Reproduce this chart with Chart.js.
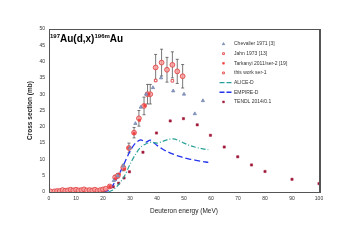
<!DOCTYPE html>
<html><head><meta charset="utf-8">
<script src="https://cdn.jsdelivr.net/npm/chart.js@4"></script>
<style>
html,body{margin:0;padding:0;background:#fff;}
#wrap{position:relative;width:351px;height:248px;font-family:"Liberation Sans",Arial,sans-serif;}
#title{position:absolute;left:50px;top:30px;font-weight:bold;font-size:10px;color:#000;line-height:12px;white-space:nowrap;}
#title sup{font-size:6px;vertical-align:4px;}
</style></head><body>
<div id="wrap"><canvas id="c" width="351" height="248"></canvas>
<div id="title"><sup>197</sup>Au(d,x)<sup>196m</sup>Au</div></div>
<script>
// ---- data ----
const chevalierE  = [24, 25.5, 27.5, 30, 32, 34, 36, 38.5, 41.5, 46, 50, 54, 57];
const chevalierXS = [3.5, 5, 8, 13.5, 21, 26, 30, 32, 35, 31, 30, 24, 28];

const jahnE  = [39.5, 45.7];
const jahnXS = [34.2, 34.1];

const tarkE  = [22.5, 24.5, 26, 28, 29.5, 31.5, 33.5, 35.5, 37, 39.5];
const tarkXS = [1.6, 4, 5.5, 7, 13.5, 18, 22, 26.5, 30, 34.2];

const workE   = [0.5, 2, 3, 4, 5, 6, 7, 8, 9, 10, 11, 12, 13, 14, 15, 16, 17, 18, 19, 20, 21, 22.5, 24.5, 25.5, 27.5, 29.6, 31.5, 33.3, 35.2, 36.5, 37.5, 39.5, 41.7, 43.7, 45.7, 47.5, 49.5];
const workXS  = [0.2, 0.2, 0.3, 0.3, 0.6, 0.4, 0.5, 0.7, 0.5, 0.7, 0.5, 0.6, 0.8, 0.5, 0.6, 0.5, 0.7, 0.4, 0.6, 0.8, 1.0, 1.7, 4.5, 5, 7.5, 13.5, 18.2, 22.6, 26.4, 30, 30, 38.2, 39.7, 37.5, 39.0, 37, 35.5];
const workErr = [0, 0, 0, 0, 0, 0, 0, 0, 0, 0, 0, 0, 0, 0, 0, 0, 0, 0, 0, 0, 0, 0, 0.6, 0.7, 1, 1.5, 1.6, 2.4, 2.7, 3, 3, 4, 4.1, 3.8, 4, 3.7, 3.6];

const alicE  = [22, 24, 26, 28, 30, 32, 34, 36, 38, 40, 42, 44, 46, 48, 50, 52, 54, 56, 58, 59];
const alicXS = [0, 0.8, 2.5, 5, 8.5, 11.5, 13.8, 14.8, 15.3, 15.0, 15.5, 16.1, 16.3, 15.8, 15.0, 14.3, 13.8, 13.4, 13.1, 13.0];

const empE  = [20, 22, 24, 26, 28, 30, 32, 34, 35, 36, 37.5, 39, 40, 42, 44, 46, 48, 50, 52, 54, 56, 58, 59];
const empXS = [0, 0.5, 2.5, 5.5, 9, 12.5, 15, 16, 15.6, 15.3, 15.9, 15.0, 14.3, 13.2, 12.3, 11.6, 11, 10.5, 10.1, 9.8, 9.5, 9.2, 9.1];

const tendlE  = [18, 19, 20, 21, 22.7, 23.8, 25.8, 27.8, 29.8, 34.8, 39.8, 44.9, 49.8, 54.9, 59.8, 64.9, 69.9, 75, 80, 90, 100];
const tendlXS = [0.1, 0.2, 0.4, 0.8, 1.5, 1.6, 2.7, 4.3, 6.2, 12.2, 18.1, 21.8, 22.5, 20.6, 17.4, 13.8, 10.8, 8.3, 6.3, 3.9, 2.6];

const xTicks = [0,10,20,30,40,50,60,70,80,90,100];
const yTicks = [0,5,10,15,20,25,30,35,40,45,50];

const pts = (xs, ys) => xs.map((x,i)=>({x, y: ys[i]}));

const datasets = [
 {label:'Chevalier 1971 [3]', data:pts(chevalierE,chevalierXS), pointStyle:'triangle', radius:1.9, backgroundColor:'#8fa0c8', borderColor:'#6f80a8', borderWidth:0.7, showLine:false},
 {label:'Jahn 1973 [13]', data:pts(jahnE,jahnXS), pointStyle:'rect', radius:1.8, backgroundColor:'#fff', borderColor:'#e04848', borderWidth:0.9, showLine:false},
 {label:'Tarkanyi 2011/ser-2 [19]', data:pts(tarkE,tarkXS), pointStyle:'rect', radius:1.6, backgroundColor:'#f04040', borderColor:'#f04040', borderWidth:0.6, showLine:false},
 {label:'this work ser-1', data:pts(workE,workXS), errors:workErr, pointStyle:'circle', radius:2.4, backgroundColor:'rgba(250,160,160,0.85)', borderColor:'#e04848', borderWidth:0.9, showLine:false},
 {label:'ALICE-D', data:pts(alicE,alicXS), showLine:true, pointRadius:0, borderColor:'#2aa198', borderWidth:1.2, borderDash:[5,2,1,2], fill:false, tension:0.3},
 {label:'EMPIRE-D', data:pts(empE,empXS), showLine:true, pointRadius:0, borderColor:'#2233ee', borderWidth:1.3, borderDash:[6,3], fill:false, tension:0.3},
 {label:'TENDL 2014/0.1', data:pts(tendlE,tendlXS), pointStyle:'rect', radius:1.6, backgroundColor:'#a01838', borderColor:'#a01838', borderWidth:0.5, showLine:false}
];

const legendMarker = {'Chevalier 1971 [3]':1.4,'Jahn 1973 [13]':1.3,'Tarkanyi 2011/ser-2 [19]':1.2,'this work ser-1':1.3,'TENDL 2014/0.1':1.3};
const legendStyle = {'this work ser-1':'rect'};

const errPlugin = {
 id:'err',
 beforeDatasetsDraw(chart){
  const ctx=chart.ctx, xs=chart.scales.x, ys=chart.scales.y;
  chart.data.datasets.forEach(ds=>{
   if(!ds.errors) return;
   ctx.save(); ctx.strokeStyle='#555'; ctx.lineWidth=0.8;
   ds.data.forEach((p,i)=>{
    const e=ds.errors[i]; if(!e) return;
    const px=xs.getPixelForValue(p.x), y1=ys.getPixelForValue(p.y+e), y2=ys.getPixelForValue(p.y-e);
    ctx.beginPath(); ctx.moveTo(px,y1); ctx.lineTo(px,y2);
    ctx.moveTo(px-1.5,y1); ctx.lineTo(px+1.5,y1);
    ctx.moveTo(px-1.5,y2); ctx.lineTo(px+1.5,y2); ctx.stroke();
   });
   ctx.restore();
  });
 }
};

const framePlugin = {
 id:'frame',
 afterDraw(chart){
  const ctx=chart.ctx, a=chart.chartArea;
  ctx.save(); ctx.strokeStyle='#555'; ctx.lineWidth=1;
  ctx.strokeRect(Math.round(a.left)+0.5, Math.round(a.top)+0.5, Math.round(a.right-a.left), Math.round(a.bottom-a.top));
  ctx.lineWidth=2; ctx.beginPath(); ctx.moveTo(Math.round(a.right)+1, a.top); ctx.lineTo(Math.round(a.right)+1, a.bottom+1); ctx.stroke();
  // legend
  const lx=223.5, tx=233, y0=44, dy=9.65;
  ctx.font='5px "Liberation Sans", Arial, sans-serif'; ctx.textBaseline='middle'; ctx.fillStyle='#333';
  chart.data.datasets.forEach((ds,i)=>{
   const y=y0+i*dy;
   ctx.save();
   if(ds.showLine){
    ctx.strokeStyle=ds.borderColor; ctx.lineWidth=ds.borderWidth; ctx.setLineDash([5,2]);
    ctx.beginPath(); ctx.moveTo(lx-4,y); ctx.lineTo(tx,y); ctx.stroke();
   } else {
    const opt={pointStyle:legendStyle[ds.label]||ds.pointStyle, radius:legendMarker[ds.label], borderWidth:ds.borderWidth, rotation:0};
    ctx.fillStyle= ds.label==='this work ser-1' ? '#fff' : ds.backgroundColor;
    ctx.strokeStyle=ds.borderColor; ctx.lineWidth=ds.borderWidth;
    Chart.helpers.drawPoint(ctx,opt,lx,y);
   }
   ctx.restore();
   ctx.fillText(ds.label, tx+1, y);
  });
  ctx.restore();
 }
};

new Chart(document.getElementById('c'),{
 type:'scatter',
 data:{datasets},
 options:{
  responsive:false, animation:false,
  layout:{padding:{left:26, top:29, right:32, bottom:33}},
  plugins:{legend:{display:false}, tooltip:{enabled:false}},
  scales:{
   x:{type:'linear', min:0, max:100,
      afterBuildTicks(s){ s.ticks = xTicks.map(v=>({value:v})); },
      afterFit(s){ s.height=23; },
      grid:{display:false, drawTicks:true, tickLength:2, tickColor:'#555'},
      border:{display:false},
      ticks:{font:{size:5, family:'"Liberation Sans", Arial, sans-serif'}, color:'#333', padding:2, maxRotation:0},
      title:{display:true, text:'Deuteron energy (MeV)', font:{size:6.5, family:'"Liberation Sans", Arial, sans-serif'}, color:'#222', padding:{top:3,bottom:0}}
   },
   y:{type:'linear', min:0, max:50,
      afterBuildTicks(s){ s.ticks = yTicks.map(v=>({value:v})); },
      afterFit(s){ s.width=23; },
      grid:{display:false, drawTicks:true, tickLength:2, tickColor:'#555'},
      border:{display:false},
      ticks:{font:{size:5, family:'"Liberation Sans", Arial, sans-serif'}, color:'#333', padding:2},
      title:{display:true, text:'Cross section (mb)', font:{size:6.5, weight:'bold', family:'"Liberation Sans", Arial, sans-serif'}, color:'#222', padding:{top:0,bottom:0}}
   }
  }
 },
 plugins:[errPlugin, framePlugin]
});
</script></body></html>
